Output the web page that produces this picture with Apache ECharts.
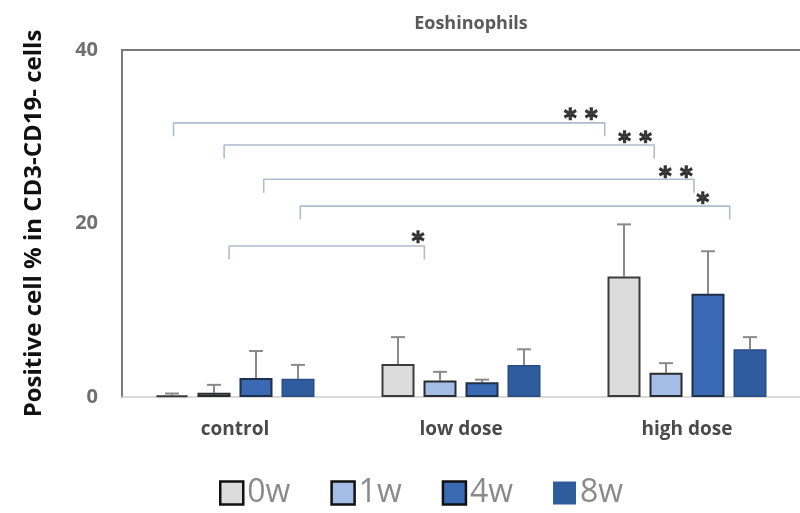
<!DOCTYPE html>
<html>
<head>
<meta charset="utf-8">
<script src="https://cdn.jsdelivr.net/npm/echarts@6/dist/echarts.min.js"></script>
<style>
  html, body { margin: 0; padding: 0; background: #fff; }
  #chart { width: 800px; height: 513px; }
</style>
</head>
<body>
<div id="chart"></div>
<script>
// Groups and time points
const groups = ['control', 'low dose', 'high dose'];
const weeks = ['0w', '1w', '4w', '8w'];

// Mean positive cell % per week (one value per group)
const mean0w = [0.2, 3.8, 13.9];
const mean1w = [0.5, 1.9, 2.8];
const mean4w = [2.2, 1.7, 11.9];
const mean8w = [2.1, 3.7, 5.5];

// Upper error (SD) per week
const err0w = [0.2, 3.1, 6.0];
const err1w = [0.9, 1.0, 1.1];
const err4w = [3.1, 0.3, 4.9];
const err8w = [1.6, 1.8, 1.4];

// Significance brackets: [from, to] in group units, height, marker text
const bracketSpan = [[0.228, 2.136], [0.452, 2.355], [0.627, 2.531], [0.789, 2.689], [0.474, 1.338]];
const bracketLevel = [31.6, 29.05, 25.1, 22.0, 17.4];
const bracketLabel = ['* *', '* *', '* *', '*', '*'];
const bracketLabelX = [2.03, 2.27, 2.45, 2.57, 1.31];
const bracketLabelY = [32.5, 29.85, 25.9, 22.8, 18.4];

const yTicks = { min: 0, max: 40, interval: 20 };

const means = [mean0w, mean1w, mean4w, mean8w];
const errs = [err0w, err1w, err4w, err8w];

const fills = ['#dcdcdc', '#a3bde6', '#3b6ab4', '#2f5c9d'];
const borders = ['#3c3c3c', '#2a2a2a', '#1f2f4a', '#284c85'];
const borderW = [2, 2, 2, 1.5];

const BAR_W = 33;
const BAR_GAP = 9;
const FONT = '"Open Sans", "DejaVu Sans", sans-serif';

const chart = echarts.init(document.getElementById('chart'));

const series = [];
weeks.forEach((w, i) => {
  series.push({
    name: w,
    type: 'bar',
    xAxisIndex: 0,
    yAxisIndex: 0,
    data: means[i],
    barWidth: BAR_W,
    barGap: (BAR_GAP / BAR_W * 100) + '%',
    itemStyle: { color: fills[i], borderColor: borders[i], borderWidth: borderW[i] },
    z: 3
  });
});

// Error bars on top of each bar
weeks.forEach((w, i) => {
  const offset = (i - 1.5) * (BAR_W + BAR_GAP);
  series.push({
    type: 'custom',
    xAxisIndex: 0,
    yAxisIndex: 0,
    z: 2,
    silent: true,
    data: groups.map((g, k) => [k, means[i][k], errs[i][k]]),
    renderItem: function (params, api) {
      const base = api.coord([api.value(0), api.value(1)]);
      const top = api.coord([api.value(0), api.value(1) + api.value(2)]);
      const x = base[0] + offset;
      const style = { stroke: '#8a8a8a', lineWidth: 2 };
      return {
        type: 'group',
        children: [
          { type: 'line', shape: { x1: x, y1: base[1], x2: x, y2: top[1] }, style: style },
          { type: 'line', shape: { x1: x - 7, y1: top[1], x2: x + 7, y2: top[1] }, style: style }
        ]
      };
    }
  });
});

// Significance brackets
bracketSpan.forEach((span, i) => {
  const lvl = bracketLevel[i];
  const drop = 1.55;
  series.push({
    type: 'line',
    xAxisIndex: 1,
    yAxisIndex: 0,
    silent: true,
    symbol: 'none',
    lineStyle: { color: '#aebdcd', width: 1.6 },
    data: [[span[0], lvl - drop], [span[0], lvl], [span[1], lvl], [span[1], lvl - drop]],
    z: 1
  });
});

// Asterisks above the brackets
series.push({
  type: 'scatter',
  xAxisIndex: 1,
  yAxisIndex: 0,
  silent: true,
  symbolSize: 0,
  itemStyle: { color: 'rgba(0,0,0,0)' },
  data: bracketLabel.map((t, i) => ({ value: [bracketLabelX[i], bracketLabelY[i]], name: t })),
  label: {
    show: true,
    position: 'inside',
    formatter: p => p.name,
    color: '#1a1a1a',
    fontSize: 24,
    fontWeight: 'bold',
    fontFamily: '"DejaVu Sans", sans-serif',
    textBorderColor: '#1a1a1a',
    textBorderWidth: 1.3,
    offset: [0, 5]
  },
  z: 5
});

chart.setOption({
  animation: false,
  backgroundColor: '#ffffff',
  title: {
    text: 'Eoshinophils',
    left: 466,
    textAlign: 'center',
    top: 10,
    textStyle: { color: '#5a5a5a', fontSize: 18, fontWeight: 'bold', fontFamily: FONT }
  },
  grid: { left: 122, top: 50, width: 684, height: 347 },
  legend: {
    data: weeks.map((w, i) => ({
      name: w,
      itemStyle: { color: fills[i], borderColor: i < 3 ? '#111' : fills[i], borderWidth: i < 3 ? 2.5 : 0 }
    })),
    left: 214,
    top: 472,
    icon: 'rect',
    itemWidth: 23,
    itemHeight: 23,
    itemGap: 40,
    textStyle: { color: '#8a8a8a', fontSize: 32, fontFamily: FONT, padding: [0, 0, 0, -1] }
  },
  xAxis: [
    {
      type: 'category',
      data: groups,
      position: 'bottom',
      axisLine: { show: true, lineStyle: { color: '#d0d0d0', width: 1.5 } },
      axisTick: { show: false },
      axisLabel: { color: '#4a4a4a', fontSize: 19, fontWeight: 'bold', fontFamily: FONT, margin: 23 }
    },
    {
      type: 'value',
      min: 0,
      max: 3,
      position: 'top',
      axisLine: { show: true, onZero: false, lineStyle: { color: '#7a7a7a', width: 2 } },
      axisTick: { show: false },
      axisLabel: { show: false },
      splitLine: { show: false }
    }
  ],
  yAxis: {
    type: 'value',
    min: yTicks.min,
    max: yTicks.max,
    interval: yTicks.interval,
    name: 'Positive cell % in CD3-CD19- cells',
    nameLocation: 'middle',
    nameGap: 76,
    nameTextStyle: { color: '#111', fontSize: 24, fontWeight: 'bold', fontFamily: FONT },
    axisLine: { show: true, lineStyle: { color: '#7a7a7a', width: 2 } },
    axisTick: { show: false },
    splitLine: { show: false },
    axisLabel: { color: '#707070', fontSize: 20, fontWeight: 'bold', fontFamily: FONT, margin: 24 }
  },
  series: series
});
</script>
</body>
</html>
